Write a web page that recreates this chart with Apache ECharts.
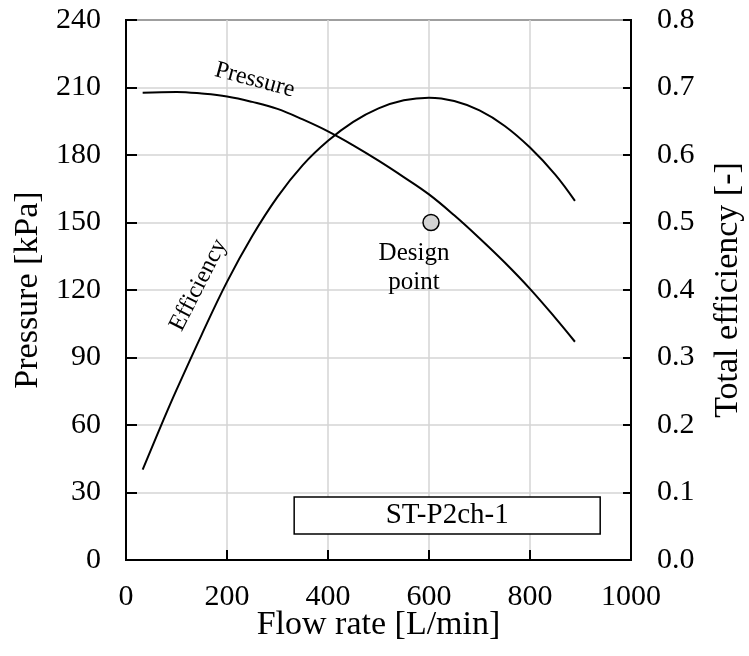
<!DOCTYPE html>
<html>
<head>
<meta charset="utf-8">
<script src="https://cdn.jsdelivr.net/npm/echarts@6/dist/echarts.min.js"></script>
<style>
html,body{margin:0;padding:0;background:#fff;}
#chart{width:749px;height:656px;}
</style>
</head>
<body>
<div id="chart"></div>
<script>
// ---- data ----
const flowP = [33, 100, 150, 200, 250, 300, 350, 400, 450, 500, 550, 600, 650, 700, 750, 800, 850, 889];
const pressure = [207.7, 208, 207.3, 206, 203.6, 200.5, 195.8, 190.5, 184.3, 177.5, 170.2, 162.5, 153.2, 143, 132.2, 120.5, 107.6, 97];

const flowE = [33, 75, 100, 150, 200, 250, 300, 350, 400, 450, 500, 550, 600, 650, 700, 750, 800, 850, 889];
const efficiency = [0.134, 0.209, 0.252, 0.334, 0.412, 0.480, 0.538, 0.585, 0.621, 0.649, 0.669, 0.681, 0.685, 0.680, 0.666, 0.643, 0.611, 0.571, 0.532];

const designPoint = [604, 150];
const designText = 'Design\npoint';

const curveLabelText = ['Pressure', 'Efficiency'];
const curveLabelAt = [[255, 213.3], [143.6, 122.2]];
const curveLabelAngle = [-15, 63];

const tagText = 'ST-P2ch-1';
const tagBox = [[333, 11.6], [939, 28]];

const xMin = 0, xMax = 1000, xStep = 200;
const pMin = 0, pMax = 240, pStep = 30;
const eMin = 0, eMax = 0.8, eStep = 0.1;

const xTitle = 'Flow rate [L/min]';
const pTitle = 'Pressure [kPa]';
const eTitle = 'Total efficiency [-]';

// ---- chart ----
const FONT = '"Liberation Serif", "Times New Roman", serif';
const chart = echarts.init(document.getElementById('chart'), null, {renderer: 'canvas'});

const zip = (xs, ys) => xs.map((x, i) => [x, ys[i]]);

const option = {
  animation: false,
  backgroundColor: '#fff',
  textStyle: {fontFamily: FONT, color: '#000'},
  grid: {left: 126, right: 118, top: 20, bottom: 96, containLabel: false, outerBoundsMode: 'none',
         show: true, borderColor: '#000', borderWidth: 2, backgroundColor: 'transparent'},
  xAxis: {
    type: 'value', min: xMin, max: xMax, interval: xStep,
    name: xTitle, nameLocation: 'middle', nameGap: 48, nameMoveOverlap: false,
    nameTextStyle: {fontFamily: FONT, fontSize: 34, color: '#000'},
    axisLine: {show: true, lineStyle: {color: '#000', width: 2}},
    axisTick: {show: true, inside: true, length: 10, lineStyle: {color: '#000', width: 2}},
    axisLabel: {fontFamily: FONT, fontSize: 30, color: '#000', margin: 22, formatter: v => String(v)},
    splitLine: {show: true, lineStyle: {color: '#d4d4d4', width: 1.5}}
  },
  yAxis: [
    {
      type: 'value', min: pMin, max: pMax, interval: pStep, position: 'left',
      name: pTitle, nameLocation: 'middle', nameGap: 80,
      nameTextStyle: {fontFamily: FONT, fontSize: 34, color: '#000'},
      axisLine: {show: true, lineStyle: {color: '#000', width: 2}},
      axisTick: {show: true, inside: true, length: 11, lineStyle: {color: '#000', width: 2}},
      axisLabel: {fontFamily: FONT, fontSize: 30, color: '#000', margin: 25, formatter: v => String(v)},
      splitLine: {show: true, lineStyle: {color: '#d4d4d4', width: 1.5}}
    },
    {
      type: 'value', min: eMin, max: eMax, interval: eStep, position: 'right',
      name: eTitle, nameLocation: 'middle', nameGap: 80,
      nameTextStyle: {fontFamily: FONT, fontSize: 34, color: '#000'},
      axisLine: {show: true, lineStyle: {color: '#000', width: 2}},
      axisTick: {show: true, inside: true, length: 8, lineStyle: {color: '#000', width: 2}},
      axisLabel: {fontFamily: FONT, fontSize: 30, color: '#000', margin: 26,
                  formatter: v => v.toFixed(1)},
      splitLine: {show: false}
    }
  ],
  series: [
    {
      name: 'Pressure', type: 'line', yAxisIndex: 0, data: zip(flowP, pressure),
      smooth: 0.4, showSymbol: false, symbol: 'none',
      lineStyle: {color: '#000', width: 2}, z: 3,
      markArea: {
        silent: true,
        itemStyle: {color: '#fff', borderColor: '#000', borderWidth: 1.5},
        label: {show: true, position: 'inside', fontFamily: FONT, fontSize: 29, color: '#000'},
        data: [[{name: tagText, coord: tagBox[0]}, {coord: tagBox[1]}]]
      }
    },
    {
      name: 'Efficiency', type: 'line', yAxisIndex: 1, data: zip(flowE, efficiency),
      smooth: 0.4, showSymbol: false, symbol: 'none',
      lineStyle: {color: '#000', width: 2}, z: 3
    },
    {
      name: 'Design point', type: 'scatter', yAxisIndex: 0,
      data: [designPoint], symbol: 'circle', symbolSize: 16,
      itemStyle: {color: '#d3d3d3', borderColor: '#000', borderWidth: 1.5, opacity: 1},
      label: {show: true, position: 'bottom', offset: [-17, 3], formatter: designText,
              fontFamily: FONT, fontSize: 25, lineHeight: 29, color: '#000', align: 'center'},
      z: 5
    },
    {
      name: 'Curve labels', type: 'scatter', yAxisIndex: 0,
      data: curveLabelAt.map((c, i) => ({
        value: c,
        label: {formatter: curveLabelText[i], rotate: curveLabelAngle[i]}
      })),
      symbolSize: 0, silent: true,
      itemStyle: {opacity: 1},
      label: {show: true, position: 'inside', fontFamily: FONT, fontSize: 24, color: '#000'},
      z: 6
    }
  ]
};
chart.setOption(option);
</script>
</body>
</html>
